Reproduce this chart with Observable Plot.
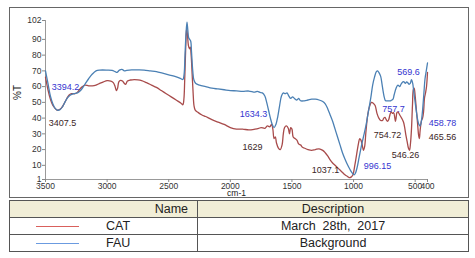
<!DOCTYPE html>
<html><head><meta charset="utf-8">
<script src="https://cdn.jsdelivr.net/npm/d3@7"></script>
<script src="https://cdn.jsdelivr.net/npm/@observablehq/plot@0.6"></script>
<style>
body{margin:0;background:#fff;font-family:"Liberation Sans",Arial,sans-serif;}
#wrap{position:relative;width:475px;height:258px;overflow:hidden;}
#frame{position:absolute;left:9px;top:7px;width:458px;height:189px;border:1px solid #666;box-sizing:content-box;}
#chart{position:absolute;left:0;top:0;}
table{position:absolute;left:9px;top:200px;width:460px;border-collapse:collapse;table-layout:fixed;font-size:12.5px;color:#222;}
td{border:1px solid #555;height:16px;padding:0;line-height:16px;overflow:hidden;}
tr.head td{background:#f1eed7;}
.nm{text-align:left;padding-left:26px;white-space:nowrap;}
.sw{display:inline-block;vertical-align:middle;width:43px;height:3px;margin-right:27px;}
</style></head>
<body>
<div id="wrap">
<div id="frame"></div>
<div id="chart"></div>
<table>
<colgroup><col style="width:188px"><col></colgroup>
<tr class="head"><td style="text-align:right;padding-right:9px">Name</td><td style="text-align:center">Description</td></tr>
<tr><td class="nm"><svg class="sw" viewBox="0 0 43 3"><line x1="0" x2="43" y1="1.5" y2="1.5" stroke="#d9605c" stroke-width="1"/></svg>CAT</td><td style="text-align:center">March&nbsp; 28th,&nbsp; 2017</td></tr>
<tr><td class="nm"><svg class="sw" viewBox="0 0 43 3"><line x1="0" x2="43" y1="1.5" y2="1.5" stroke="#6b9be0" stroke-width="1"/></svg>FAU</td><td style="text-align:center">Background</td></tr>
</table>
</div>
<script>
const seriesNames = ["CAT", "FAU"];
const xTicks = [3500, 3000, 2500, 2000, 1500, 1000, 500, 400];
const yTicks = [1, 10, 20, 30, 40, 50, 60, 70, 80, 90, 102];

const fauSpectrum = [[3500,70],[3480,62],[3460,54],[3440,49],[3420,46],[3400,45],[3380,45.5],[3360,47.5],[3340,50.5],[3320,53],[3300,54.5],[3270,55.5],[3240,56],[3210,58],[3180,61.5],[3150,65],[3120,68],[3090,70],[3060,70.5],[3000,70.5],[2960,70.3],[2935,69.5],[2920,69],[2900,70.5],[2880,71],[2860,70],[2840,70.3],[2800,70.6],[2750,70.6],[2700,70.5],[2650,70],[2600,69.5],[2550,68.5],[2500,67.5],[2450,66.5],[2400,65],[2385,64.5],[2375,68],[2368,80],[2360,93],[2352,101],[2345,96],[2338,91],[2330,90],[2322,89],[2315,82],[2305,70],[2295,64],[2280,62],[2250,61],[2200,60],[2150,59],[2100,58.5],[2050,58],[2000,57.5],[1950,57.3],[1900,57],[1850,57.2],[1800,56.5],[1780,57],[1760,56.3],[1740,56],[1720,54],[1705,50],[1690,45],[1675,40],[1660,36],[1645,34],[1630,36],[1615,41],[1600,48],[1585,54],[1570,56],[1555,55.5],[1540,56],[1525,54],[1510,52.5],[1495,53.5],[1480,52.5],[1460,51.5],[1445,52.5],[1430,51],[1400,51],[1370,51.5],[1340,52],[1310,52],[1280,51.5],[1250,50.5],[1230,49],[1210,46],[1190,42],[1170,38],[1150,33],[1130,28],[1110,23],[1090,18],[1070,14],[1050,10.5],[1030,7.5],[1010,5],[996,4],[985,5],[970,9],[955,15],[940,21],[920,28],[900,35],[880,44],[860,53],[845,61],[830,66],[815,69.5],[805,70],[795,69],[780,66.5],[770,62],[760,57],[750,53],[740,51],[720,51],[700,51],[690,51.5],[680,52],[670,55],[655,59],[640,61],[625,60],[615,61.5],[600,63],[590,63],[580,62],[569,63],[560,62.5],[550,61.5],[540,62],[530,64.5],[520,62],[512,57],[500,50],[490,44],[480,39],[470,36],[459,35],[450,38],[440,45],[430,55],[420,65],[410,70],[400,75]];

const catSpectrum = [[3500,66],[3480,58],[3460,52],[3440,48],[3420,46],[3407,45],[3390,45.3],[3370,46.5],[3350,49],[3330,52],[3310,54.5],[3290,55.5],[3260,55.5],[3240,56.5],[3220,58.5],[3200,60],[3180,61],[3150,60.5],[3120,60.5],[3090,61],[3060,62],[3030,63],[3000,63.8],[2970,63.5],[2950,62.5],[2935,60],[2925,57.5],[2915,59],[2905,63],[2890,64],[2875,63.5],[2860,62],[2850,61.5],[2835,63.5],[2810,64.2],[2780,64.5],[2750,64.3],[2720,63.8],[2680,62.5],[2640,61],[2600,59.5],[2560,57.5],[2520,55.5],[2480,53.5],[2440,51.5],[2400,49.5],[2385,48.5],[2377,52],[2370,65],[2362,85],[2355,97],[2348,93],[2340,86],[2332,84],[2325,85],[2318,80],[2310,68],[2302,56],[2295,48],[2285,45],[2260,43.5],[2230,42],[2200,41],[2150,39],[2100,37.5],[2050,36],[2000,34],[1950,33],[1900,33],[1850,32.5],[1800,33],[1770,33.5],[1750,34],[1720,33.5],[1700,35],[1680,34.5],[1665,36],[1655,33],[1645,27],[1635,28],[1625,24],[1610,21],[1595,20],[1580,23],[1570,30],[1560,34],[1545,35],[1530,33.5],[1520,30],[1510,34],[1500,33],[1490,28],[1475,27],[1460,26],[1445,23.5],[1430,23],[1415,21.5],[1400,21],[1370,20],[1340,19.5],[1310,20],[1280,20.5],[1250,19.5],[1230,18],[1210,16],[1190,13.5],[1170,11.5],[1150,10],[1130,8.5],[1110,7],[1090,5.5],[1070,4],[1050,3],[1037,2.2],[1020,2.5],[1005,4],[990,10],[975,17],[960,24],[950,27],[940,26],[930,23],[920,19.5],[910,22],[900,31],[885,42],[870,47.5],[855,50],[840,49.5],[825,48],[810,43],[795,40],[780,38.5],[765,38.5],[755,40],[745,40.5],[735,39],[725,38],[715,39],[705,42],[695,44],[685,43],[675,43.5],[665,40],[660,38],[655,40],[648,43.5],[640,44],[625,42],[610,40],[595,37.5],[585,34],[575,29],[565,25],[555,21],[546,19.5],[538,24],[530,33],[522,48],[515,58],[508,59],[500,54],[490,45],[480,36],[472,29],[466,27],[460,32],[450,38],[440,40],[432,44],[424,53],[416,56],[408,60],[400,69]];

// peak annotations: [text, wavenumber, %T]
const fauPeakLabels = [["3394.2",3338,59.4],["1634.3",1812,42.3],["996.15",806,9.3],["757.7",676,46],["569.6",554,69],["458.78",278,36.6]];
const catPeakLabels = [["3407.5",3362,36.6],["1629",1820,21.3],["1037.1",1228,6.7],["754.72",725,29],["546.26",579,16.2],["465.56",278,27.7]];

const rows = [
  ...catSpectrum.map(([w, t]) => ({name: seriesNames[0], w, t})),
  ...fauSpectrum.map(([w, t]) => ({name: seriesNames[1], w, t}))
];

const chart = Plot.plot({
  width: 475,
  height: 200,
  marginLeft: 45,
  marginRight: 48,
  marginTop: 20,
  marginBottom: 21,
  style: {fontFamily: "'Liberation Sans', Arial, sans-serif", fontSize: "9px", color: "#333", background: "transparent", overflow: "visible"},
  x: {domain: [3500, 400]},
  y: {domain: [1, 102]},
  color: {domain: seriesNames, range: ["#a84b4b", "#4b80b4"]},
  marks: [
    Plot.ruleY([1], {stroke: "#999"}),
    Plot.ruleX([3500], {stroke: "#999"}),
    Plot.axisY({ticks: yTicks, tickSize: 3, tickPadding: 1, label: null, fontSize: 8.5, stroke: "#888", tickFormat: d3.format("d")}),
    Plot.axisX({ticks: xTicks, tickSize: 3, tickPadding: 0, label: null, fontSize: 8.5, stroke: "#888", tickFormat: d3.format("d")}),
    Plot.line(rows, {x: "w", y: "t", z: "name", stroke: "name", strokeWidth: 1.3, curve: "catmull-rom"}),
    Plot.text(fauPeakLabels, {x: d => d[1], y: d => d[2], text: d => d[0], fill: "#3535d0", fontSize: 9}),
    Plot.text(catPeakLabels, {x: d => d[1], y: d => d[2], text: d => d[0], fill: "#3b2626", fontSize: 9}),
    Plot.text(["%T"], {frameAnchor: "left", dx: -28, rotate: -90, text: d => d, fontSize: 10, fill: "#222"}),
    Plot.text(["cm-1"], {frameAnchor: "bottom", dy: 16, text: d => d, fontSize: 8.5, fill: "#222"})
  ]
});
document.getElementById("chart").appendChild(chart);
</script>
</body></html>
